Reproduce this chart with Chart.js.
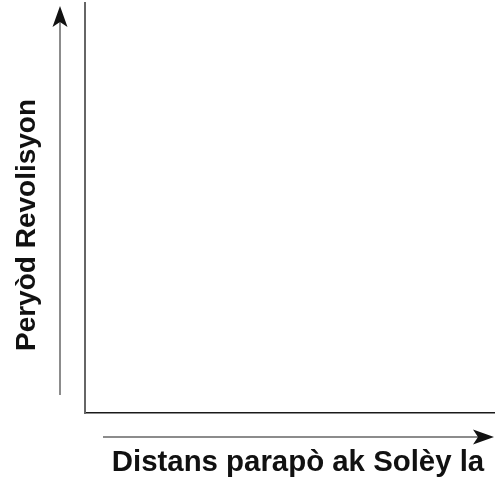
<!DOCTYPE html>
<html>
<head>
<meta charset="utf-8">
<script src="https://cdn.jsdelivr.net/npm/chart.js@4.4.1/dist/chart.umd.min.js"></script>
<style>
  html, body { margin: 0; padding: 0; background: #fff; }
  canvas { display: block; }
</style>
</head>
<body>
<canvas id="orbit" width="495" height="487"></canvas>
<script>
// the reference is an empty diagram: only axes, arrows and titles
const distances = [];
const periods = [];
const xTitle = "Distans parapò ak Solèy la";
const yTitle = "Peryòd Revolisyon";

const fontFamily = "'Liberation Sans', Arial, sans-serif";

// arrows and axis titles drawn beside the axes
const arrowPlugin = {
  id: "arrows",
  afterDraw(chart) {
    const { ctx, chartArea } = chart;
    const head = (tipX, tipY, dir) => {
      ctx.save();
      ctx.translate(tipX, tipY);
      ctx.rotate(dir);
      ctx.fillStyle = "#111";
      ctx.beginPath();
      ctx.moveTo(0, 0);
      ctx.lineTo(-21, -7.5);
      ctx.lineTo(-16, 0);
      ctx.lineTo(-21, 7.5);
      ctx.closePath();
      ctx.fill();
      ctx.restore();
    };
    ctx.save();
    ctx.strokeStyle = "#666";
    ctx.lineWidth = 1.5;
    // vertical
    const vx = chartArea.left - 25;
    ctx.beginPath();
    ctx.moveTo(vx, chartArea.bottom - 18);
    ctx.lineTo(vx, chartArea.top + 14);
    ctx.stroke();
    head(vx, chartArea.top + 3, -Math.PI / 2);
    // horizontal
    const hy = chartArea.bottom + 24;
    ctx.beginPath();
    ctx.moveTo(chartArea.left + 18, hy);
    ctx.lineTo(chartArea.right - 12, hy);
    ctx.stroke();
    head(chartArea.right, hy, 0);

    // titles
    ctx.fillStyle = "#111";
    ctx.textAlign = "center";
    ctx.textBaseline = "middle";
    ctx.font = "bold 29.4px " + fontFamily;
    ctx.fillText(xTitle, chartArea.left + 213, chartArea.bottom + 50);
    ctx.translate(chartArea.left - 58, chartArea.top + 222);
    ctx.rotate(-Math.PI / 2);
    ctx.font = "bold 28px " + fontFamily;
    ctx.fillText(yTitle, 0, 0);
    ctx.restore();
  }
};

new Chart(document.getElementById("orbit").getContext("2d"), {
  type: "scatter",
  data: {
    datasets: [
      { data: distances.map((d, i) => ({ x: d, y: periods[i] })) }
    ]
  },
  options: {
    responsive: false,
    animation: false,
    layout: { padding: { top: 3, right: 1, left: 85, bottom: 74 } },
    plugins: { legend: { display: false }, tooltip: { enabled: false } },
    scales: {
      x: {
        min: 0, max: 1,
        ticks: { display: false },
        grid: { display: false, drawTicks: false },
        border: { color: "#1a1a1a", width: 1.5 }
      },
      y: {
        min: 0, max: 1,
        ticks: { display: false },
        grid: { display: false, drawTicks: false },
        border: { color: "#666", width: 2 }
      }
    }
  },
  plugins: [arrowPlugin]
});
</script>
</body>
</html>
